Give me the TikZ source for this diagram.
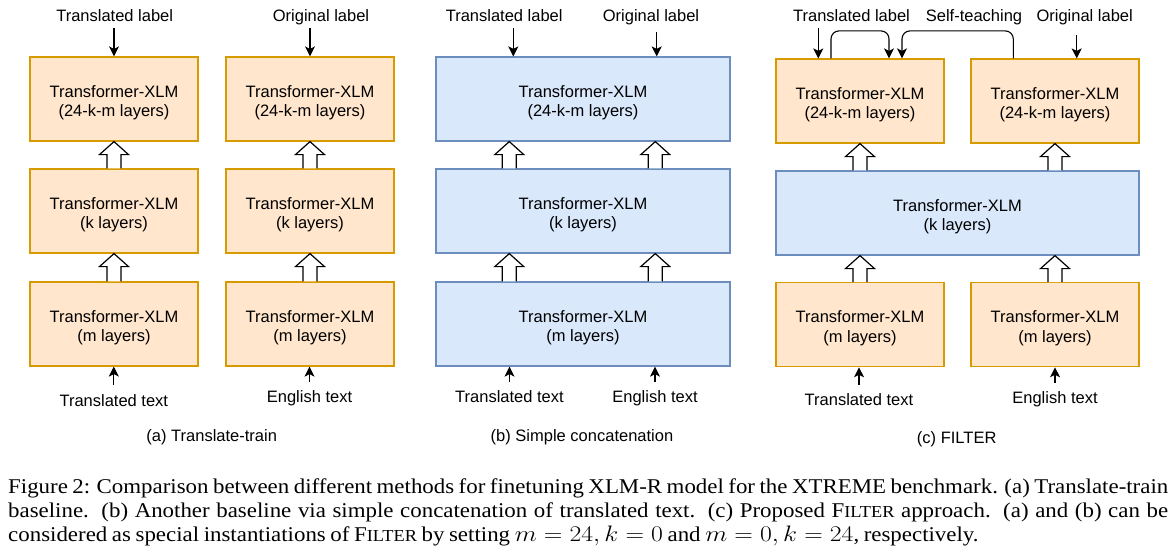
\documentclass[tikz,border=0pt]{standalone}
\usepackage{graphicx}
\usepackage{fontspec}
\setmainfont{Liberation Serif}
\newfontfamily\capfont[FakeStretch=1.09]{Liberation Serif}
\newfontfamily\diagfont{Liberation Sans}
\usetikzlibrary{arrows.meta,calc}
\definecolor{ofill}{HTML}{FFE6CC}
\definecolor{odraw}{HTML}{D79B00}
\definecolor{bfill}{HTML}{DAE8FC}
\definecolor{bdraw}{HTML}{6C8EBF}
\tikzset{
 dfont/.style={font=\diagfont\fontsize{16.5}{19.5}\selectfont},
 obox/.style={dfont, draw=odraw, fill=ofill, line width=1.2pt, minimum width=168pt, minimum height=84pt, align=center, inner sep=0pt},
 bbox/.style={obox, draw=bdraw, fill=bfill},
 lbl/.style={dfont, inner sep=0pt, text height=12pt, text depth=0pt, anchor=base},
 sarr/.style={line width=1.1pt, -{Stealth[length=10pt,width=10pt,inset=2.5pt]}},
 harr/.style={draw=black, fill=white, line width=1.2pt, line join=miter},
}
\newcommand\twoline[2]{\rule{0pt}{19pt}#1\\#2}
\newcommand\hollowup[2]{%
 \draw[harr] let \p1=(#1), \p2=(#2) in
  (\x1-7pt,\y1) -- (\x1-7pt,\y2-13pt) -- (\x1-14.5pt,\y2-13pt) -- (\x1,\y2)
  -- (\x1+14.5pt,\y2-13pt) -- (\x1+7pt,\y2-13pt) -- (\x1+7pt,\y1);}
\newcommand\filtsc{F{\fontsize{16.8}{24.2}\selectfont ILTER}}
\newcommand\wmath[1]{\scalebox{1.24}[1.08]{$#1$}}
\begin{document}
\begin{tikzpicture}[x=1pt,y=-1pt]
\useasboundingbox (0,0) rectangle (1175,552);
\fill[white] (0,0) rectangle (1175,552);
% helper x coordinates
\coordinate (xb1) at (509.3,0);
\coordinate (xb2) at (655.3,0);
\coordinate (xb3) at (513.3,0);
\coordinate (xb4) at (656.7,0);
\coordinate (xc1) at (818.3,0);
\coordinate (xc2) at (1076.7,0);
\coordinate (xs1) at (831,0);
\coordinate (xe1) at (889,0);
\coordinate (xs2) at (1013.3,0);
\coordinate (xe2) at (902,0);

% ---------- panel (a)
\node[obox] (a1t) at (114,99) {\twoline{Transformer-XLM}{(24-k-m layers)}};
\node[obox] (a1m) at (114,211) {\twoline{Transformer-XLM}{(k layers)}};
\node[obox] (a1b) at (114,324) {\twoline{Transformer-XLM}{(m layers)}};
\node[obox] (a2t) at (310,99) {\twoline{Transformer-XLM}{(24-k-m layers)}};
\node[obox] (a2m) at (310,211) {\twoline{Transformer-XLM}{(k layers)}};
\node[obox] (a2b) at (310,324) {\twoline{Transformer-XLM}{(m layers)}};
\hollowup{a1m.north}{a1t.south}
\hollowup{a1b.north}{a1m.south}
\hollowup{a2m.north}{a2t.south}
\hollowup{a2b.north}{a2m.south}
\node[lbl] (la1) at (114.7,21.5) {Translated label};
\node[lbl] (la2) at (321,21.5) {Original label};
\draw[sarr, shorten <=6.5pt] (la1.south -| a1t.north) -- (a1t.north);
\draw[sarr, shorten <=6.5pt] (la2.south -| a2t.north) -- (a2t.north);
\node[lbl] (ta1) at (113.8,406) {Translated text};
\node[lbl] (ta2) at (309.5,402.5) {English text};
\draw[sarr, shorten <=8.5pt] (ta1.north) -- (ta1.north |- a1b.south);
\draw[sarr, shorten <=8.5pt] (ta2.north) -- (ta2.north |- a2b.south);
\node[lbl] (capa) at (211.7,441.7) {(a) Translate-train};

% ---------- panel (b)
\node[bbox, minimum width=294pt] (bt) at (583,99) {\twoline{Transformer-XLM}{(24-k-m layers)}};
\node[bbox, minimum width=294pt] (bm) at (583,211) {\twoline{Transformer-XLM}{(k layers)}};
\node[bbox, minimum width=294pt] (bb) at (583,324) {\twoline{Transformer-XLM}{(m layers)}};
\hollowup{bm.north -| xb1}{bt.south -| xb1}
\hollowup{bm.north -| xb2}{bt.south -| xb2}
\hollowup{bb.north -| xb1}{bm.south -| xb1}
\hollowup{bb.north -| xb2}{bm.south -| xb2}
\node[lbl] (lb1) at (504.2,21.5) {Translated label};
\node[lbl] (lb2) at (651,21.5) {Original label};
\draw[sarr, shorten <=6.5pt] (lb1.south -| xb3) -- (bt.north -| xb3);
\draw[sarr, shorten <=10pt] (lb2.south -| xb4) -- (bt.north -| xb4);
\node[lbl] (tb1) at (509.5,402.7) {Translated text};
\node[lbl] (tb2) at (655,402.7) {English text};
\draw[sarr, shorten <=8.5pt] (tb1.north) -- (tb1.north |- bb.south);
\draw[sarr, shorten <=8.5pt] (tb2.north) -- (tb2.north |- bb.south);
\node[lbl] (capb) at (582,441.7) {(b) Simple concatenation};

% ---------- panel (c)
\node[obox] (c1t) at (860,101) {\twoline{Transformer-XLM}{(24-k-m layers)}};
\node[obox] (c2t) at (1055,101) {\twoline{Transformer-XLM}{(24-k-m layers)}};
\node[bbox, minimum width=363pt] (cm) at (957.5,213) {\twoline{Transformer-XLM}{(k layers)}};
\node[obox] (c1b) at (860,324.7) {\twoline{Transformer-XLM}{(m layers)}};
\node[obox] (c2b) at (1055,324.7) {\twoline{Transformer-XLM}{(m layers)}};
\hollowup{cm.north -| c1t.south}{c1t.south}
\hollowup{cm.north -| c2t.south}{c2t.south}
\hollowup{c1b.north}{cm.south -| c1b.north}
\hollowup{c2b.north}{cm.south -| c2b.north}
\node[lbl] (lc1) at (851.5,21.5) {Translated label};
\node[lbl] (lc2) at (974,21.5) {Self-teaching};
\node[lbl] (lc3) at (1084.7,21.5) {Original label};
\draw[sarr, shorten <=6.5pt] (lc1.south -| xc1) -- (c1t.north -| xc1);
\draw[sarr, shorten <=13.5pt] (lc3.south -| xc2) -- (c2t.north -| xc2);
\draw[sarr, rounded corners=8pt] (c1t.north -| xs1) -- ++(0,-27.5) -| (c1t.north -| xe1);
\draw[sarr, rounded corners=8pt] (c2t.north -| xs2) -- ++(0,-27.5) -| (c1t.north -| xe2);
\node[lbl] (tc1) at (859,405.7) {Translated text};
\node[lbl] (tc2) at (1055,403.3) {English text};
\draw[sarr, shorten <=8.5pt] (tc1.north) -- (tc1.north |- c1b.south);
\draw[sarr, shorten <=8.5pt] (tc2.north) -- (tc2.north |- c2b.south);
\node[lbl] (capc) at (956.7,443.3) {(c) FILTER};

% ---------- caption
\node[anchor=north west, inner sep=0pt, text width=1160pt, align=justify,
      font=\capfont\fontsize{21}{24.2}\selectfont] (cap) at (8,478.5)
 {\spaceskip=4.6pt plus 3pt minus 1.2pt
 Figure 2: Comparison between different methods for finetuning XLM-R model for the XTREME benchmark. (a) \mbox{Translate-train}\linebreak
 baseline. (b) Another baseline via simple concatenation of translated text. (c) Proposed \filtsc{} approach. (a) and (b) can be\linebreak
 considered as special instantiations of \filtsc{} by setting \wmath{m=24,k=0} and \wmath{m=0,k=24}, respectively.};
\end{tikzpicture}
\end{document}
